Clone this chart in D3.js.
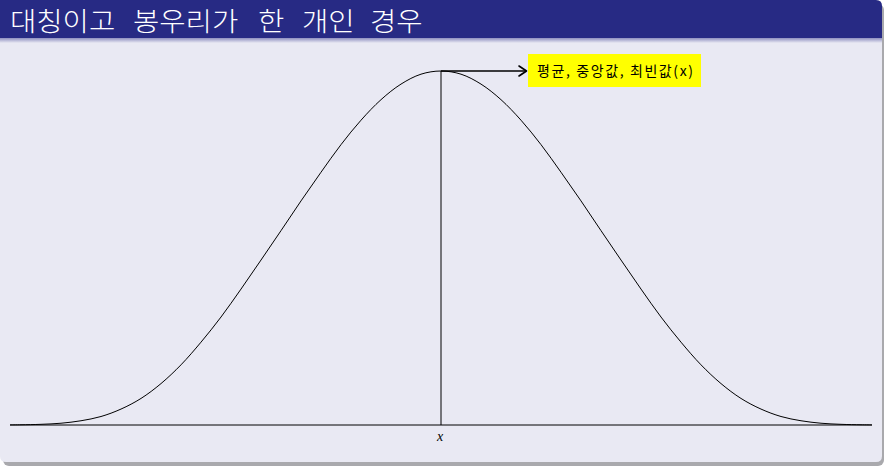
<!DOCTYPE html>
<html><head><meta charset="utf-8">
<script src="https://cdn.jsdelivr.net/npm/d3@7"></script>
<style>html,body{margin:0;padding:0;background:#fff;}svg{display:block;}</style>
</head><body>
<script>
// Curve values (relative height in % of the peak)
const xValues = [-4.31,-4.2,-4.0,-3.8,-3.6,-3.4,-3.2,-3.0,-2.8,-2.6,-2.4,-2.2,-2.0,-1.8,-1.6,-1.4,-1.2,-1.0,-0.8,-0.6,-0.4,-0.2,0,
                 0.2,0.4,0.6,0.8,1.0,1.2,1.4,1.6,1.8,2.0,2.2,2.4,2.6,2.8,3.0,3.2,3.4,3.6,3.8,4.0,4.2,4.31];
const yValues = [0.03,0.06,0.19,0.5,1.2,2.4,4.5,7.5,11.7,17.0,23.4,30.5,38.4,46.6,54.9,63.3,71.4,79.2,86.1,91.9,96.3,99.1,100,
                 99.1,96.3,91.9,86.1,79.2,71.4,63.3,54.9,46.6,38.4,30.5,23.4,17.0,11.7,7.5,4.5,2.4,1.2,0.5,0.19,0.06,0.03];
const centerValue = 0;
const titleWords = ["대칭이고","봉우리가","한","개인","경우"];
const annotationText = "평균, 중앙값, 최빈값(x)";
const axisLabel = "x";

const W = 884, H = 466;
const svg = d3.select("body").append("svg").attr("width", W).attr("height", H);
const defs = svg.append("defs");

// slide shadow
svg.append("rect").attr("x",3).attr("y",4).attr("width",881).attr("height",462).attr("rx",6).attr("fill","#a9a9ad");
// slide body
svg.append("path").attr("fill","#e9e9f3")
  .attr("d","M0,0 H876 Q882,0 882,6 V456 Q882,462 876,462 H6 Q0,462 0,456 Z");
// title shadow gradient
const g = defs.append("linearGradient").attr("id","tsh").attr("x1",0).attr("y1",0).attr("x2",0).attr("y2",1);
g.append("stop").attr("offset","0%").attr("stop-color","#8e8fc0");
g.append("stop").attr("offset","100%").attr("stop-color","#e9e9f3");
svg.append("rect").attr("x",0).attr("y",38).attr("width",882).attr("height",5).attr("fill","url(#tsh)");
// title bar
svg.append("path").attr("fill","#272a84")
  .attr("d","M0,0 H876 Q882,0 882,6 V38 H0 Z");
const wordX = [10,133,258,302,370];
const sx = 1.1;
const title = svg.append("text").attr("y",31).attr("transform",`scale(${sx},1)`)
  .attr("font-family","'Noto Sans CJK KR', sans-serif").attr("font-weight",300)
  .attr("font-size",26).attr("fill","#ffffff");
title.selectAll("tspan").data(titleWords).join("tspan")
  .attr("x",(d,i)=>wordX[i]/sx).text(d=>d);

const x = d3.scaleLinear().domain([-4.31, 4.31]).range([10, 872]);
const y = d3.scaleLinear().domain([0, 100]).range([425, 71]);

// axis line
svg.append("line").attr("x1",x.range()[0]).attr("x2",x.range()[1])
  .attr("y1",y(0)).attr("y2",y(0)).attr("stroke","#000").attr("stroke-width",1);

// curve
const pts = xValues.map((v,i)=>[v,yValues[i]]);
svg.append("path").datum(pts)
  .attr("d", d3.line().x(d=>x(d[0])).y(d=>y(d[1])).curve(d3.curveCatmullRom.alpha(0.5)))
  .attr("fill","none").attr("stroke","#000").attr("stroke-width",1);

const peak = d3.max(yValues);
// vertical line
svg.append("line").attr("x1",x(centerValue)).attr("x2",x(centerValue))
  .attr("y1",y(0)).attr("y2",y(peak)).attr("stroke","#000").attr("stroke-width",1);

// arrow
svg.append("line").attr("x1",x(centerValue)).attr("x2",526)
  .attr("y1",y(peak)).attr("y2",y(peak)).attr("stroke","#000").attr("stroke-width",1.6);
svg.append("path").attr("d",`M${519},${y(peak)-5} L${526.5},${y(peak)} L${519},${y(peak)+5}`)
  .attr("fill","none").attr("stroke","#000").attr("stroke-width",1.6).attr("stroke-linecap","round").attr("stroke-linejoin","round");

// annotation box
svg.append("rect").attr("x",528).attr("y",54).attr("width",173).attr("height",33).attr("fill","#ffff00");
svg.append("text").attr("x",537).attr("y",76)
  .attr("font-family","'Noto Sans CJK KR', sans-serif").attr("font-size",14).attr("fill","#000")
  .attr("textLength",156).attr("lengthAdjust","spacing")
  .text(annotationText);

// x label
svg.append("text").attr("x",x(centerValue)-1).attr("y",441).attr("text-anchor","middle")
  .attr("font-family","'Liberation Serif', serif").attr("font-style","italic").attr("font-size",14)
  .text(axisLabel);
</script>
</body></html>
